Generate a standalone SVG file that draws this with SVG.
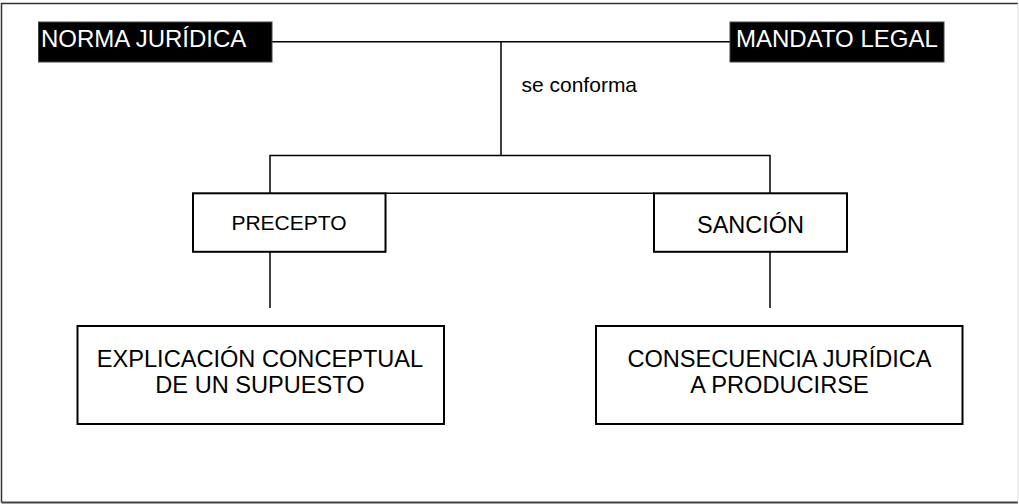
<svg xmlns="http://www.w3.org/2000/svg" width="1019" height="504" viewBox="0 0 1019 504">
<style>
.t{font-family:"Liberation Sans",Arial,sans-serif;fill:#000}
.w{font-family:"Liberation Sans",Arial,sans-serif;fill:#fff}
.box{fill:#fff;stroke:#000;stroke-width:2}
.blk{fill:#000;stroke:#444;stroke-width:1}
.c{fill:none;stroke:#000;stroke-width:1.5}
</style>
<rect x="0" y="0" width="1019" height="504" fill="#fff"/>
<g id="frame">
<path d="M1.5,502.5 V3.5 H1018" fill="none" stroke="#333" stroke-width="1.5"/>
<path d="M1.5,502.5 H1018" fill="none" stroke="#444" stroke-width="2"/>
<path d="M1018,3.5 V502.5" fill="none" stroke="#ddd" stroke-width="1"/>
</g>
<g id="connectors">
<path class="c" d="M272,41.7 H730"/>
<path class="c" d="M501,41.7 V155.5"/>
<path class="c" d="M270,193.3 V155.5 H770 V193.3"/>
<path class="c" d="M385,193.3 H654"/>
<path class="c" d="M270,252 V308"/>
<path class="c" d="M770,252 V308"/>
</g>
<g id="label-se-conforma">
<text class="t" x="521.5" y="92.3" font-size="21">se conforma</text>
</g>
<g id="norma-juridica">
<rect class="blk" x="38.5" y="22" width="233.5" height="40"/>
<text class="w" x="41" y="47" font-size="24">NORMA JURÍDICA</text>
</g>
<g id="mandato-legal">
<rect class="blk" x="730" y="22" width="214" height="40"/>
<text class="w" x="736" y="47" font-size="24">MANDATO LEGAL</text>
</g>
<g id="precepto">
<rect class="box" x="193" y="193.3" width="192.5" height="58.5"/>
<text class="t" x="289" y="229.5" font-size="21" text-anchor="middle">PRECEPTO</text>
</g>
<g id="sancion">
<rect class="box" x="654" y="193.3" width="193" height="58.5"/>
<text class="t" x="750.5" y="233" font-size="23.5" text-anchor="middle">SANCIÓN</text>
</g>
<g id="explicacion">
<rect class="box" x="77.5" y="326" width="366.5" height="98"/>
<text class="t" x="260" y="367.3" font-size="23.6" text-anchor="middle">EXPLICACIÓN CONCEPTUAL</text>
<text class="t" x="260" y="392.7" font-size="23.6" text-anchor="middle">DE UN SUPUESTO</text>
</g>
<g id="consecuencia">
<rect class="box" x="596" y="326" width="366.5" height="98"/>
<text class="t" x="779.5" y="367.3" font-size="23.6" text-anchor="middle">CONSECUENCIA JURÍDICA</text>
<text class="t" x="779.5" y="392.7" font-size="23.6" text-anchor="middle">A PRODUCIRSE</text>
</g>
</svg>
